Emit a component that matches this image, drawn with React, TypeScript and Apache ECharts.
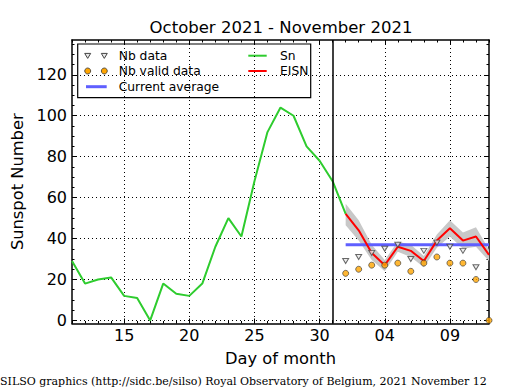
import React, { useEffect, useRef } from 'react';
import * as echarts from 'echarts';

// ---- data (x = day number counted from 1 October 2021; 32 = 1 November) ----
const SN_DAYS = [11, 12, 13, 14, 15, 16, 17, 18, 19, 20, 21, 22, 23, 24, 25, 26, 27, 28, 29, 30, 31, 32];
const SN_VALUES = [29, 18, 20, 21, 12, 11, 0, 18, 13, 12, 18, 36, 50, 41, 68, 92, 104, 100, 85, 78, 68, 52];

const EISN_DAYS = [32, 33, 34, 35, 36, 37, 38, 39, 40, 41, 42, 43];
const EISN_VALUES = [52, 44, 33, 27, 36, 34, 29, 39, 45, 39, 41, 32];
const EISN_LOW = [46.5, 39, 29.5, 24, 33.5, 31, 26, 35.5, 41, 35, 36, 29];
const EISN_HIGH = [57, 49, 37, 29.5, 38.5, 37, 31.5, 42, 49, 43, 45.5, 34.5];
const NB_DATA = [29, 31, 33, 35, 37, 30, 34, 38, 36, 34, 26, null];
const NB_VALID = [23, 25, 27, 27, 28, 24, 28, 31, 28, 28, 20, 0];

const CURRENT_AVERAGE = 37;
const AVERAGE_SPAN = [32, 43];
const MONTH_END = 31;

const X_RANGE = [11, 43];
const Y_RANGE = [-1.5, 137];
const X_MAJOR = [15, 20, 25, 30, 35, 40];
const X_MINOR = [11, 12, 13, 14, 15, 16, 17, 18, 19, 20, 21, 22, 23, 24, 25, 26, 27, 28, 29, 30, 31, 32, 33, 34, 35, 36, 37, 38, 39, 40, 41, 42, 43];
const Y_MAJOR = [0, 20, 40, 60, 80, 100, 120];
const Y_MINOR = [0, 5, 10, 15, 20, 25, 30, 35, 40, 45, 50, 55, 60, 65, 70, 75, 80, 85, 90, 95, 100, 105, 110, 115, 120, 125, 130, 135];

const TITLE = 'October 2021 - November 2021';
const FOOTER = 'SILSO graphics (http://sidc.be/silso) Royal Observatory of Belgium, 2021 November 12';

const FONT = 'DejaVu Sans';

function dayLabel(v: number): string {
  if (v <= MONTH_END) return String(v);
  const d = v - MONTH_END;
  return d < 10 ? '0' + d : String(d);
}

export default function App() {
  const ref = useRef<HTMLDivElement>(null);

  useEffect(() => {
    const chart = echarts.init(ref.current!, null, { renderer: 'svg' });

    const black = '#000';
    const baseX = { type: 'value', min: X_RANGE[0], max: X_RANGE[1], gridIndex: 0 };
    const baseY = { type: 'value', min: Y_RANGE[0], max: Y_RANGE[1], gridIndex: 0 };
    const hiddenLine = { show: false, onZero: false };
    const frameLine = { show: true, onZero: false, lineStyle: { color: black, width: 1.5 } };
    const dotted = { show: true, lineStyle: { color: black, width: 1, type: [1, 3] } };
    const majTick = (vals: number[]) => ({ show: true, inside: true, length: 5, customValues: vals, lineStyle: { color: black, width: 1 } });
    const minTick = (vals: number[]) => ({ show: true, inside: true, length: 2.5, customValues: vals, lineStyle: { color: black, width: 1 } });

    const xAxis: any[] = [
      {
        ...baseX, position: 'bottom',
        axisLine: frameLine, axisTick: majTick(X_MAJOR),
        axisLabel: { customValues: X_MAJOR, formatter: (v: number) => dayLabel(v), fontSize: 16, fontFamily: FONT, color: black, margin: 4 },
        splitLine: dotted,
        name: 'Day of month', nameLocation: 'middle', nameGap: 27,
        nameTextStyle: { fontSize: 16.3, fontFamily: FONT, color: black },
      },
      { ...baseX, position: 'bottom', axisLine: hiddenLine, axisTick: minTick(X_MINOR), axisLabel: { show: false }, splitLine: { show: false } },
      { ...baseX, position: 'top', axisLine: frameLine, axisTick: majTick(X_MAJOR), axisLabel: { show: false }, splitLine: { show: false } },
      { ...baseX, position: 'top', axisLine: hiddenLine, axisTick: minTick(X_MINOR), axisLabel: { show: false }, splitLine: { show: false } },
    ];
    const yAxis: any[] = [
      {
        ...baseY, position: 'left',
        axisLine: frameLine, axisTick: majTick(Y_MAJOR),
        axisLabel: { customValues: Y_MAJOR, fontSize: 16, fontFamily: FONT, color: black, margin: 5 },
        splitLine: dotted,
        name: 'Sunspot Number', nameLocation: 'middle', nameGap: 34,
        nameTextStyle: { fontSize: 16.3, fontFamily: FONT, color: black },
      },
      { ...baseY, position: 'left', axisLine: hiddenLine, axisTick: minTick(Y_MINOR), axisLabel: { show: false }, splitLine: { show: false } },
      { ...baseY, position: 'right', axisLine: frameLine, axisTick: majTick(Y_MAJOR), axisLabel: { show: false }, splitLine: { show: false } },
      { ...baseY, position: 'right', axisLine: hiddenLine, axisTick: minTick(Y_MINOR), axisLabel: { show: false }, splitLine: { show: false } },
    ];

    const pairs = (xs: number[], ys: (number | null)[]) => xs.map((x, i) => [x, ys[i]]);

    // legend graphics
    const lgX = 77.7, lgY = 44, lgW = 233, lgH = 53.7;
    const rows = [55.7, 71, 86.7];
    const mk1 = 87.7, mk2 = 104.3, txtX = 118.7;
    const col2Line = [248.3, 266.7], col2Txt = 280;
    const legendFont = `12.3px "${FONT}"`;
    const tri = (cx: number, cy: number) => ({
      type: 'polygon',
      shape: { points: [[cx - 3, cy - 2.3], [cx + 3, cy - 2.3], [cx, cy + 2.7]] },
      style: { fill: '#e8e8e8', stroke: '#444', lineWidth: 1 },
    });
    const dot = (cx: number, cy: number) => ({
      type: 'circle', shape: { cx, cy, r: 3 },
      style: { fill: '#ffa500', stroke: '#333', lineWidth: 0.8 },
    });
    const lgText = (x: number, y: number, text: string) => ({
      type: 'text', x, y,
      style: { text, font: legendFont, fill: black, textAlign: 'left', textVerticalAlign: 'middle' },
    });
    const lgLine = (x1: number, x2: number, y: number, color: string, w: number) => ({
      type: 'line', shape: { x1, y1: y, x2, y2: y }, style: { stroke: color, lineWidth: w },
    });

    const option: any = {
      animation: false,
      backgroundColor: '#fff',
      grid: { left: 72, top: 40, right: 26, bottom: 66.5, containLabel: false },
      xAxis,
      yAxis,
      series: [
        {
          name: 'EISN range', type: 'custom', silent: true, z: 1,
          data: EISN_DAYS.map((d, i) => [d, EISN_LOW[i], EISN_HIGH[i]]),
          encode: { x: 0, y: [1, 2] },
          renderItem: (params: any, api: any) => {
            if (params.dataIndex !== 0) return null;
            const upper = EISN_DAYS.map((d, i) => api.coord([d, EISN_HIGH[i]]));
            const lower = EISN_DAYS.map((d, i) => api.coord([d, EISN_LOW[i]])).reverse();
            return {
              type: 'polygon',
              shape: { points: upper.concat(lower) },
              style: { fill: '#c8c8c8', stroke: 'none' },
            };
          },
        },
        {
          name: 'Sn', type: 'line', data: pairs(SN_DAYS, SN_VALUES), showSymbol: false,
          lineStyle: { color: '#2ecc2e', width: 2 }, z: 2,
          markLine: {
            silent: true, symbol: 'none', label: { show: false },
            lineStyle: { color: black, width: 1.5, type: 'solid' },
            data: [{ xAxis: MONTH_END }],
          },
        },
        {
          name: 'Current average', type: 'line',
          data: AVERAGE_SPAN.map((x) => [x, CURRENT_AVERAGE]), showSymbol: false,
          lineStyle: { color: '#5f5fff', width: 3 }, z: 3,
        },
        {
          name: 'EISN', type: 'line', data: pairs(EISN_DAYS, EISN_VALUES), showSymbol: false,
          lineStyle: { color: '#ff0000', width: 2 }, z: 4,
        },
        {
          name: 'Nb data', type: 'scatter', data: pairs(EISN_DAYS, NB_DATA),
          symbol: 'triangle', symbolRotate: 180, symbolSize: [6, 5],
          itemStyle: { color: '#e8e8e8', borderColor: '#444', borderWidth: 1 }, z: 5,
        },
        {
          name: 'Nb valid data', type: 'scatter', data: pairs(EISN_DAYS, NB_VALID),
          symbol: 'circle', symbolSize: 6,
          itemStyle: { color: '#ffa500', borderColor: '#333', borderWidth: 0.8 }, z: 6,
        },
      ],
      graphic: [
        {
          type: 'text', x: 281, y: 27,
          style: { text: TITLE, font: `16.5px "${FONT}"`, fill: black, textAlign: 'center', textVerticalAlign: 'middle' },
        },
        {
          type: 'text', x: 0, y: 381,
          style: { text: FOOTER, font: '11px "DejaVu Serif"', fill: black, textAlign: 'left', textVerticalAlign: 'middle' },
        },
        {
          type: 'group', z: 100,
          children: [
            { type: 'rect', shape: { x: lgX, y: lgY, width: lgW, height: lgH }, style: { fill: '#fff', stroke: black, lineWidth: 1.2 } },
            tri(mk1, rows[0]), tri(mk2, rows[0]), lgText(txtX, rows[0], 'Nb data'),
            dot(mk1, rows[1]), dot(mk2, rows[1]), lgText(txtX, rows[1], 'Nb valid data'),
            lgLine(86, 106.7, rows[2], '#5f5fff', 3), lgText(txtX, rows[2], 'Current average'),
            lgLine(col2Line[0], col2Line[1], rows[0], '#2ecc2e', 2), lgText(col2Txt, rows[0], 'Sn'),
            lgLine(col2Line[0], col2Line[1], rows[1], '#ff0000', 2), lgText(col2Txt, rows[1], 'EISN'),
          ],
        },
      ],
    };

    chart.setOption(option);
    return () => chart.dispose();
  }, []);

  return <div ref={ref} style={{ position: 'fixed', left: 0, top: 0, width: 515, height: 390 }} />;
}
